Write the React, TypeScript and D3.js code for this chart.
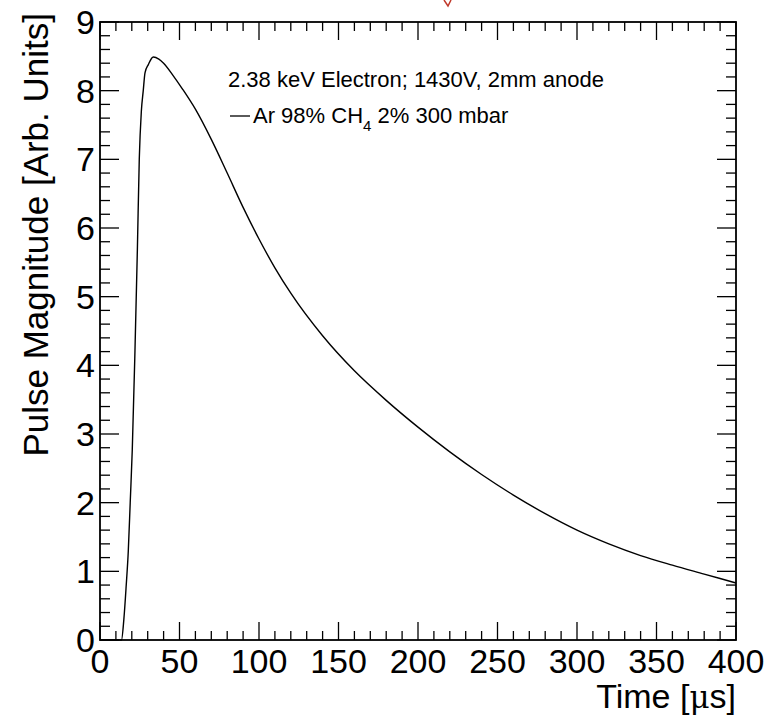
import React, { useEffect, useRef } from "react";
import * as d3 from "d3";

// pulse shape: time [us] and magnitude
const times = [0, 13.5, 15, 16.5, 17.8, 19, 20.3, 22, 23.5, 24.7, 26, 27.2, 28.3, 30.4, 33.5, 37, 40, 46, 52, 60, 70, 80, 90, 100, 110, 120, 140, 160, 180, 200, 220, 240, 260, 280, 300, 320, 340, 360, 380, 400];
const magnitudes = [0, 0, 0.3, 0.8, 1.3, 2.0, 2.77, 4.22, 5.68, 7.0, 7.7, 8.0, 8.26, 8.38, 8.49, 8.46, 8.4, 8.22, 8.02, 7.73, 7.29, 6.8, 6.3, 5.84, 5.42, 5.05, 4.43, 3.92, 3.49, 3.1, 2.74, 2.41, 2.11, 1.84, 1.6, 1.4, 1.23, 1.09, 0.96, 0.83];

const xMajorTicks = [0, 50, 100, 150, 200, 250, 300, 350, 400];
const yMajorTicks = [0, 1, 2, 3, 4, 5, 6, 7, 8, 9];

const legendTitle = "2.38 keV Electron; 1430V, 2mm anode";
const font = "'Liberation Sans', Arial, Helvetica, sans-serif";

const App = () => {
  const svgRef = useRef<SVGSVGElement>(null);

  useEffect(() => {
    const W = 769;
    const H = 716;
    const margin = { top: 22, right: 33, bottom: 76, left: 100 };
    const width = W - margin.left - margin.right;
    const height = H - margin.top - margin.bottom;

    const svg = d3.select(svgRef.current).attr("width", W).attr("height", H);
    svg.selectAll("*").remove();

    const x = d3.scaleLinear().domain([0, 400]).range([0, width]);
    const y = d3.scaleLinear().domain([0, 9]).range([height, 0]);

    const g = svg.append("g").attr("transform", `translate(${margin.left},${margin.top})`);

    // minor + major ticks on all four sides (pointing inward)
    const xMinor = d3.range(0, 401, 10);
    const yMinor = d3.range(0, 9.001, 0.2);
    const tickG = g.append("g").attr("stroke", "#000").attr("stroke-width", 1.3);
    xMinor.forEach((t) => {
      const major = xMajorTicks.includes(Math.round(t));
      const len = major ? 18 : 9;
      tickG.append("line").attr("x1", x(t)).attr("x2", x(t)).attr("y1", height).attr("y2", height - len);
      tickG.append("line").attr("x1", x(t)).attr("x2", x(t)).attr("y1", 0).attr("y2", len);
    });
    yMinor.forEach((v) => {
      const major = Math.abs(v - Math.round(v)) < 1e-6;
      const len = major ? 19 : 10;
      tickG.append("line").attr("x1", 0).attr("x2", len).attr("y1", y(v)).attr("y2", y(v));
      tickG.append("line").attr("x1", width).attr("x2", width - len).attr("y1", y(v)).attr("y2", y(v));
    });

    // frame
    g.append("rect")
      .attr("width", width)
      .attr("height", height)
      .attr("fill", "none")
      .attr("stroke", "#000")
      .attr("stroke-width", 1.8);

    // tick labels
    g.selectAll(".xl")
      .data(xMajorTicks)
      .enter()
      .append("text")
      .attr("x", (d) => x(d))
      .attr("y", height + 33)
      .attr("text-anchor", "middle")
      .attr("font-family", font)
      .attr("font-size", 34)
      .text((d) => d);

    g.selectAll(".yl")
      .data(yMajorTicks)
      .enter()
      .append("text")
      .attr("x", -5)
      .attr("y", (d) => y(d) + 12)
      .attr("text-anchor", "end")
      .attr("font-family", font)
      .attr("font-size", 34)
      .text((d) => d);

    // axis titles
    const xt = g.append("text")
      .attr("x", width)
      .attr("y", height + 68)
      .attr("text-anchor", "end")
      .attr("font-family", font)
      .attr("font-size", 34);
    xt.append("tspan").text("Time [");
    xt.append("tspan").attr("font-family", "'DejaVu Serif', serif").attr("font-size", 31).text("\u03BC");
    xt.append("tspan").text("s]");

    svg.append("text")
      .attr("transform", `translate(48,13) rotate(-90)`)
      .attr("text-anchor", "end")
      .attr("font-family", font)
      .attr("font-size", 35)
      .text("Pulse Magnitude [Arb. Units]");

    // curve
    const data = times.map((t, i) => ({ t, v: magnitudes[i] }));
    const line = d3
      .line<{ t: number; v: number }>()
      .x((d) => x(d.t))
      .y((d) => y(d.v))
      .curve(d3.curveMonotoneX);
    g.append("path")
      .datum(data)
      .attr("d", line)
      .attr("fill", "none")
      .attr("stroke", "#000")
      .attr("stroke-width", 1.4);

    // legend
    svg.append("text")
      .attr("x", 228)
      .attr("y", 87)
      .attr("font-family", font)
      .attr("font-size", 22)
      .text(legendTitle);
    svg.append("line")
      .attr("x1", 230)
      .attr("x2", 250)
      .attr("y1", 116)
      .attr("y2", 116)
      .attr("stroke", "#000")
      .attr("stroke-width", 1.3);
    const lt = svg.append("text")
      .attr("x", 253)
      .attr("y", 123)
      .attr("font-family", font)
      .attr("font-size", 22);
    lt.append("tspan").text("Ar 98% CH");
    lt.append("tspan").attr("font-size", 15).attr("dy", 8).text("4");
    lt.append("tspan").attr("dy", -8).text(" 2% 300 mbar");

    // small red mark at the top edge
    svg.append("path")
      .attr("d", "M444,0 L448,6 L451,0")
      .attr("fill", "none")
      .attr("stroke", "#c0392b")
      .attr("stroke-width", 1.5);
  }, []);

  return (
    <div style={{ position: "absolute", left: 0, top: 0, background: "#fff" }}>
      <svg ref={svgRef}></svg>
    </div>
  );
};

export default App;
